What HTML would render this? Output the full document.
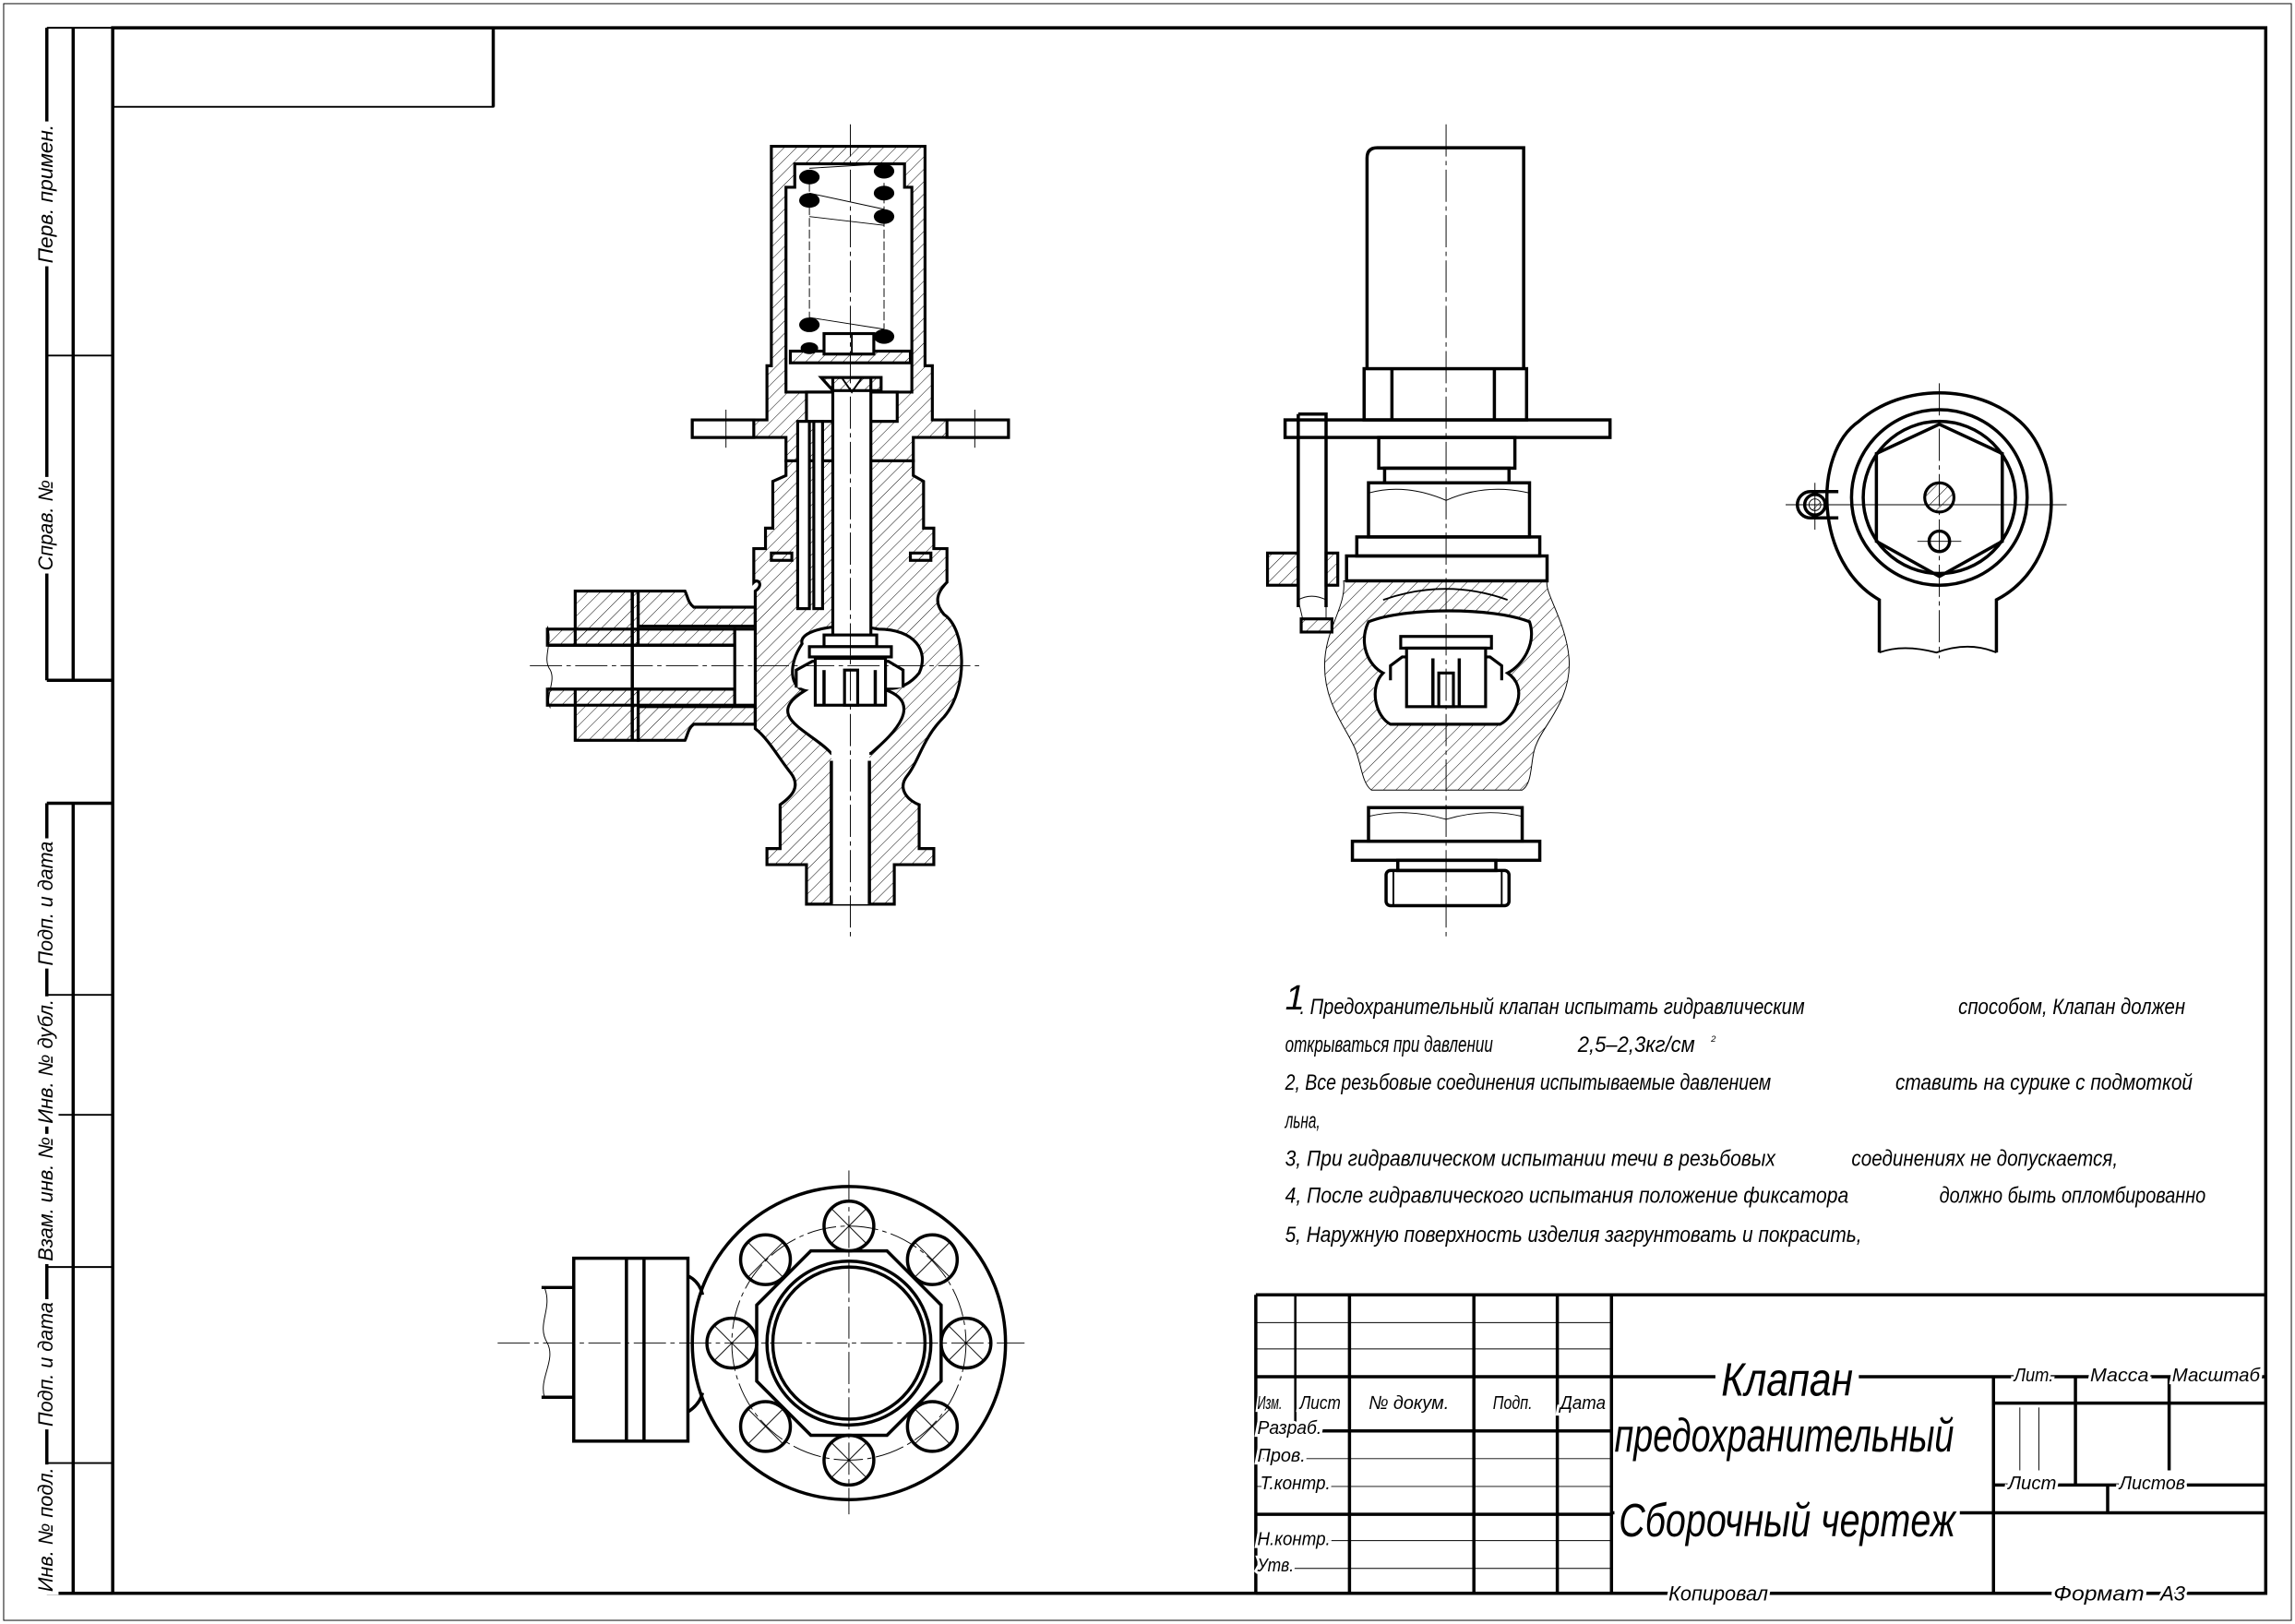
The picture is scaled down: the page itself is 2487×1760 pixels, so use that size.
<!DOCTYPE html>
<html><head><meta charset="utf-8"><style>
html,body{margin:0;padding:0;background:#fff}
svg{display:block}
text{font-family:"Liberation Sans","DejaVu Sans",sans-serif;font-style:italic;fill:#000}
.t{stroke:#000;stroke-width:2.2;fill:none}
.m{stroke:#000;stroke-width:1.2;fill:none}
.n{stroke:#000;stroke-width:0.6;fill:none}
.c{stroke:#000;stroke-width:0.6;fill:none;stroke-dasharray:22 3 3 3}
.h{fill:url(#hat);stroke:#000;stroke-width:2}
.hh{fill:url(#hat);stroke:#000;stroke-width:0.6}
.w{fill:#fff;stroke:#000;stroke-width:2}
.gap{paint-order:stroke;stroke:#fff;stroke-width:4}
.bg{fill:#fff;stroke:none}
</style></head><body>
<svg width="2487" height="1760" viewBox="0 0 1568 1110" preserveAspectRatio="none" xmlns="http://www.w3.org/2000/svg">
<defs>
<pattern id="hat" width="6" height="6" patternUnits="userSpaceOnUse" patternTransform="rotate(45)">
<line x1="0" y1="0" x2="0" y2="6" stroke="#000" stroke-width="0.6"/></pattern>
</defs>
<rect x="0" y="0" width="1568" height="1110" fill="#fff"/>
<!-- frames -->
<rect x="2.5" y="2.5" width="1563" height="1105" class="n" stroke-width="1"/>
<rect x="77" y="19" width="1471" height="1070" class="t"/>
<rect x="77" y="19" width="260" height="54" class="m"/>
<line x1="337" y1="19" x2="337" y2="73" class="t"/>
<!-- left strip -->
<g class="t">
<line x1="50" y1="19" x2="50" y2="465"/><line x1="32" y1="19" x2="32" y2="465"/>
<line x1="50" y1="549" x2="50" y2="1089"/><line x1="32" y1="549" x2="32" y2="1089"/>
<line x1="32" y1="465" x2="77" y2="465"/><line x1="32" y1="549" x2="77" y2="549"/>
<line x1="32" y1="1089" x2="77" y2="1089"/>
</g>
<g class="m">
<line x1="32" y1="243" x2="77" y2="243"/><line x1="32" y1="19" x2="77" y2="19"/>
<line x1="32" y1="680" x2="77" y2="680"/><line x1="32" y1="762" x2="77" y2="762"/>
<line x1="32" y1="866" x2="77" y2="866"/><line x1="32" y1="1000" x2="77" y2="1000"/>
</g>
<g font-size="14">
<g transform="translate(36,180) rotate(-90)"><rect class="bg" x="-2" y="-12" width="99" height="16"/><text textLength="95" lengthAdjust="spacingAndGlyphs">Перв. примен.</text></g>
<g transform="translate(36,390) rotate(-90)"><rect class="bg" x="-2" y="-12" width="66" height="16"/><text textLength="62" lengthAdjust="spacingAndGlyphs">Справ. №</text></g>
<g transform="translate(36,660) rotate(-90)"><rect class="bg" x="-2" y="-12" width="89" height="16"/><text textLength="85" lengthAdjust="spacingAndGlyphs">Подп. и дата</text></g>
<g transform="translate(36,768) rotate(-90)"><rect class="bg" x="-2" y="-12" width="89" height="16"/><text textLength="85" lengthAdjust="spacingAndGlyphs">Инв. № дубл.</text></g>
<g transform="translate(36,862) rotate(-90)"><rect class="bg" x="-2" y="-12" width="89" height="16"/><text textLength="85" lengthAdjust="spacingAndGlyphs">Взам. инв. №</text></g>
<g transform="translate(36,975) rotate(-90)"><rect class="bg" x="-2" y="-12" width="89" height="16"/><text textLength="85" lengthAdjust="spacingAndGlyphs">Подп. и дата</text></g>
<g transform="translate(36,1088) rotate(-90)"><rect class="bg" x="-2" y="-12" width="89" height="16"/><text textLength="85" lengthAdjust="spacingAndGlyphs">Инв. № подл.</text></g>
</g>

<!-- ===== main section view ===== -->
<g>
<path class="h" fill-rule="evenodd" d="M527,100 H632 V250 H637 V287 H689 V299 H624 V315 H537 V299 H473 V287 H524 V250 H527 Z M543,112 H618 V128 H623 V268 H537 V128 H543 Z"/>
<rect x="473" y="287" width="42" height="12" class="w"/><rect x="647" y="287" width="42" height="12" class="w"/>
<line x1="496" y1="280" x2="496" y2="306" class="n"/><line x1="666" y1="280" x2="666" y2="306" class="n"/>
<path class="h" d="M537,315 H624 V325 L631,329 V361 H638 V375 H647 V398 C640,405 638,412 645,420 C660,430 662,470 645,490 C630,505 628,520 620,530 C612,540 622,548 628,550 V580 H638 V591 H611 V618 H551 V591 H524 V580 H533 V550 C540,545 548,538 540,528 C532,518 525,505 516,498 V404 C522,400 518,395 515,398 V375 H523 V361 H528 V329 L537,325 Z"/>
<path class="w" stroke-width="0.8" d="M548,440 C545,430 575,425 600,430 C625,430 635,445 628,460 C620,470 610,472 600,470 C640,480 600,510 595,515 L568,515 C555,500 520,490 550,472 C540,470 538,455 548,440 Z"/>
<rect x="568" y="500" width="26" height="118" fill="#fff" stroke="none"/>
<line x1="568" y1="520" x2="568" y2="618" class="t"/><line x1="594" y1="520" x2="594" y2="618" class="t"/>
<rect x="551" y="268" width="62" height="20" class="w"/>
<rect x="545" y="288" width="8" height="128" class="w"/>
<rect x="556" y="288" width="6" height="128" class="w" stroke-width="1.5"/>
<rect x="569" y="258" width="26" height="178" class="w"/>
<path class="h" d="M561,258 H602 V267 H569 Z"/>
<rect x="540" y="240" width="82" height="8" class="h"/>
<rect x="563" y="228" width="34" height="14" class="w"/>
<line x1="582" y1="228" x2="582" y2="242" class="m"/>
<path d="M575,258 L582,268 L589,258" class="m"/>
<g fill="#000">
<ellipse cx="553" cy="121" rx="7" ry="5"/><ellipse cx="604" cy="117" rx="7" ry="5"/>
<ellipse cx="553" cy="137" rx="7" ry="5"/><ellipse cx="604" cy="132" rx="7" ry="5"/>
<ellipse cx="604" cy="148" rx="7" ry="5"/>
<ellipse cx="553" cy="222" rx="7" ry="5"/><ellipse cx="553" cy="238" rx="6" ry="4"/>
<ellipse cx="604" cy="230" rx="7" ry="5"/>
</g>
<g class="n"><line x1="553" y1="115" x2="604" y2="112"/><line x1="553" y1="132" x2="604" y2="143"/><line x1="553" y1="148" x2="604" y2="154"/><line x1="553" y1="217" x2="604" y2="225"/>
<line x1="553" y1="125" x2="553" y2="217" stroke-dasharray="6 2"/><line x1="604" y1="125" x2="604" y2="225" stroke-dasharray="6 2"/></g>
<rect x="527" y="378" width="14" height="5" class="h"/><rect x="622" y="378" width="14" height="5" class="h"/>
<rect x="563" y="434" width="36" height="8" class="w"/>
<rect x="553" y="442" width="56" height="7" class="w"/>
<path class="w" d="M544,470 V458 L555,452 H607 L617,458 V470"/>
<rect x="557" y="450" width="48" height="32" class="w"/>
<line x1="563" y1="458" x2="563" y2="482" class="t"/><line x1="598" y1="458" x2="598" y2="482" class="t"/>
<rect x="577" y="458" width="9" height="24" class="w" stroke-width="1.2"/>
<rect x="393" y="404" width="43" height="102" class="h"/>
<path class="h" d="M436,404 H468 C470,408 470,412 474,415 H516 V428 H436 Z"/>
<path class="h" d="M436,506 H468 C470,502 470,498 474,495 H516 V483 H436 Z"/>
<rect x="374" y="430" width="128" height="11" class="h"/>
<rect x="374" y="471" width="128" height="11" class="h"/>
<rect x="374" y="441" width="128" height="30" fill="#fff" stroke="none"/>
<line x1="374" y1="441" x2="502" y2="441" class="t"/><line x1="374" y1="471" x2="502" y2="471" class="t"/>
<rect x="502" y="430" width="14" height="52" class="w"/>
<line x1="432" y1="404" x2="432" y2="506" class="t"/>
<path d="M374,428 C378,440 370,450 376,458 C380,466 372,476 376,484" class="n"/>
<line x1="581" y1="85" x2="581" y2="640" class="c"/>
<line x1="362" y1="455" x2="672" y2="455" class="c"/>
</g>

<!-- ===== elevation view ===== -->
<g>
<path class="t" d="M934,252 V108 Q934,101 941,101 H1041 V252"/>
<rect x="932" y="252" width="111" height="35" class="t"/>
<line x1="951" y1="252" x2="951" y2="287" class="t"/><line x1="1021" y1="252" x2="1021" y2="287" class="t"/>
<rect x="878" y="287" width="222" height="12" class="t" fill="#fff"/>
<rect x="942" y="299" width="93" height="21" class="t"/>
<rect x="946" y="320" width="85" height="10" class="t"/>
<rect x="935" y="330" width="110" height="37" class="t"/>
<path d="M935,337 Q960,330 988,342 Q1015,330 1045,337" class="n"/>
<rect x="927" y="367" width="125" height="13" class="t"/>
<rect x="920" y="380" width="137" height="17" class="t"/>
<rect x="866" y="378" width="21" height="22" class="h"/>
<rect x="906" y="378" width="8" height="22" class="h"/>
<path class="t" d="M887,283 H906 V415 M887,283 V415" fill="#fff"/>
<path d="M887,410 Q896,405 906,410 L906,423 M887,410 L890,423" class="n"/>
<rect x="889" y="423" width="21" height="9" class="h"/>
<path class="hh" stroke-width="0.8" d="M918,397 H1057 C1055,405 1070,425 1072,450 C1074,478 1055,495 1050,508 C1045,518 1048,535 1040,540 H937 C930,535 930,520 925,510 C918,495 905,480 905,455 C905,430 920,415 918,397 Z"/>
<path class="w" stroke-width="0.6" d="M935,425 C960,415 1020,415 1045,425 C1050,440 1040,455 1030,460 C1045,470 1035,490 1025,495 H950 C940,490 935,470 945,460 C935,455 928,440 935,425 Z"/>
<path d="M945,410 Q988,395 1030,410" class="m"/>
<rect x="957" y="435" width="62" height="8" class="w"/>
<path class="w" d="M950,465 V455 L958,449 H1018 L1026,455 V465"/>
<rect x="961" y="443" width="54" height="40" class="w"/>
<line x1="979" y1="450" x2="979" y2="483" class="t"/><line x1="997" y1="450" x2="997" y2="483" class="t"/>
<rect x="983" y="460" width="10" height="23" class="w" stroke-width="1.2"/>
<rect x="935" y="552" width="105" height="23" class="t"/>
<path d="M935,558 Q960,552 988,560 Q1015,552 1040,558" class="n"/>
<rect x="924" y="575" width="128" height="13" class="t"/>
<rect x="955" y="588" width="67" height="7" class="t"/>
<rect x="947" y="595" width="84" height="24" rx="3" class="t"/>
<line x1="952" y1="595" x2="952" y2="619" class="m"/><line x1="1026" y1="595" x2="1026" y2="619" class="m"/>
<line x1="988" y1="85" x2="988" y2="640" class="c"/>
</g>

<!-- ===== top view ===== -->
<g>
<path class="t" d="M1284,446 V410 C1240,385 1238,310 1270,288 C1300,262 1350,262 1380,288 C1410,315 1412,385 1364,410 V446"/>
<path class="m" d="M1284,446 Q1300,440 1323,446 Q1345,438 1364,446"/>
<circle cx="1325" cy="340" r="60" class="t"/>
<circle cx="1325" cy="340" r="52" class="t"/>
<polygon points="1325,290 1368,310 1368,370 1325,394 1282,370 1282,310" class="t"/>
<circle cx="1325" cy="340" r="10" class="h"/>
<circle cx="1325" cy="370" r="7" class="t"/>
<path class="t" d="M1256,336 H1237 A9,9 0 0 0 1237,354 H1256"/>
<circle cx="1240" cy="345" r="7" class="t"/>
<circle cx="1240" cy="345" r="4" class="hh"/>
<line x1="1220" y1="345" x2="1412" y2="345" class="n"/>
<line x1="1325" y1="262" x2="1325" y2="450" class="c"/>
<line x1="1240" y1="330" x2="1240" y2="362" class="n"/>
<line x1="1310" y1="370" x2="1340" y2="370" class="n"/>
</g>

<!-- ===== bottom (flange) view ===== -->
<g>
<circle cx="580" cy="918" r="107" class="t"/>
<circle cx="580" cy="918" r="80" class="n" stroke-dasharray="20 3 3 3"/>
<polygon points="554,855 606,855 643,892 643,944 606,981 554,981 517,944 517,892" class="t"/>
<circle cx="580" cy="918" r="56" class="t"/>
<circle cx="580" cy="918" r="52" class="t"/>
<g class="t">
<circle cx="580" cy="838" r="17"/><circle cx="637" cy="861" r="17"/><circle cx="660" cy="918" r="17"/><circle cx="637" cy="975" r="17"/>
<circle cx="580" cy="998" r="17"/><circle cx="523" cy="975" r="17"/><circle cx="500" cy="918" r="17"/><circle cx="523" cy="861" r="17"/>
</g>
<g class="n">
<path d="M568,826 L592,850 M592,826 L568,850"/><path d="M625,849 L649,873 M649,849 L625,873"/>
<path d="M648,906 L672,930 M672,906 L648,930"/><path d="M625,963 L649,987 M649,963 L625,987"/>
<path d="M568,986 L592,1010 M592,986 L568,1010"/><path d="M511,963 L535,987 M535,963 L511,987"/>
<path d="M488,906 L512,930 M512,906 L488,930"/><path d="M511,849 L535,873 M535,849 L511,873"/>
</g>
<rect x="392" y="860" width="78" height="125" class="t" fill="#fff"/>
<line x1="428" y1="860" x2="428" y2="985" class="t"/><line x1="440" y1="860" x2="440" y2="985" class="t"/>
<path class="t" d="M470,872 Q478,876 480,885 M470,965 Q478,960 480,952"/>
<path class="t" d="M370,880 H392 M370,955 H392"/>
<path class="n" d="M372,880 C378,895 366,905 374,918 C380,930 368,942 372,955"/>
<line x1="340" y1="918" x2="700" y2="918" class="c"/>
<line x1="580" y1="800" x2="580" y2="1035" class="c"/>
</g>

<!-- ===== notes ===== -->
<g font-size="15">
<text x="878" y="690" font-size="24">1</text>
<text x="888" y="693" textLength="345" lengthAdjust="spacingAndGlyphs">. Предохранительный клапан испытать гидравлическим</text>
<text x="1338" y="693" textLength="155" lengthAdjust="spacingAndGlyphs">способом, Клапан должен</text>
<text x="878" y="719" textLength="142" lengthAdjust="spacingAndGlyphs">открываться при давлении</text>
<text x="1078" y="719" textLength="80" lengthAdjust="spacingAndGlyphs">2,5–2,3кг/см</text>
<text x="1169" y="712" font-size="6">2</text>
<text x="878" y="745" textLength="332" lengthAdjust="spacingAndGlyphs">2,  Все резьбовые соединения испытываемые давлением</text>
<text x="1295" y="745" textLength="203" lengthAdjust="spacingAndGlyphs">ставить на сурике с подмоткой</text>
<text x="878" y="771" textLength="24" lengthAdjust="spacingAndGlyphs">льна,</text>
<text x="878" y="797" textLength="335" lengthAdjust="spacingAndGlyphs">3,  При гидравлическом испытании течи в резьбовых</text>
<text x="1265" y="797" textLength="182" lengthAdjust="spacingAndGlyphs">соединениях не допускается,</text>
<text x="878" y="822" textLength="385" lengthAdjust="spacingAndGlyphs">4,   После гидравлического испытания положение фиксатора</text>
<text x="1325" y="822" textLength="182" lengthAdjust="spacingAndGlyphs">должно быть опломбированно</text>
<text x="878" y="849" textLength="394" lengthAdjust="spacingAndGlyphs">5,  Наружную поверхность изделия загрунтовать и покрасить,</text>
</g>

<!-- ===== title block ===== -->
<g>
<line x1="858" y1="885" x2="1548" y2="885" class="t"/>
<line x1="858" y1="885" x2="858" y2="1089" class="t"/>
<g class="n" stroke-width="1">
<line x1="858" y1="904" x2="1101" y2="904"/><line x1="858" y1="922" x2="1101" y2="922"/>
<line x1="858" y1="997" x2="1101" y2="997"/><line x1="858" y1="1016" x2="1101" y2="1016"/>
<line x1="858" y1="1053" x2="1101" y2="1053"/><line x1="858" y1="1072" x2="1101" y2="1072"/>
</g>
<g class="t">
<line x1="858" y1="941" x2="1101" y2="941"/><line x1="858" y1="1035" x2="1101" y2="1035"/>
<line x1="885" y1="978" x2="1101" y2="978"/>
<line x1="885" y1="885" x2="885" y2="978" stroke-width="1.6"/>
<line x1="922" y1="885" x2="922" y2="1089"/><line x1="1007" y1="885" x2="1007" y2="1089"/>
<line x1="1064" y1="885" x2="1064" y2="1089"/><line x1="1101" y1="885" x2="1101" y2="1089"/>
<line x1="1101" y1="941" x2="1548" y2="941"/>
<line x1="1362" y1="941" x2="1362" y2="1089"/>
<line x1="1362" y1="959" x2="1548" y2="959"/>
<line x1="1362" y1="1015" x2="1548" y2="1015"/>
<line x1="1101" y1="1034" x2="1548" y2="1034"/>
<line x1="1418" y1="941" x2="1418" y2="1015"/>
<line x1="1482" y1="941" x2="1482" y2="1005"/>
<line x1="1440" y1="1015" x2="1440" y2="1034"/>
</g>
<line x1="1380" y1="962" x2="1380" y2="1005" class="n"/><line x1="1393" y1="962" x2="1393" y2="1005" class="n"/>
<g font-size="13">
<text class="gap" x="859" y="963" textLength="17" lengthAdjust="spacingAndGlyphs">Изм.</text>
<text class="gap" x="888" y="963" textLength="28" lengthAdjust="spacingAndGlyphs">Лист</text>
<rect class="bg" x="933" y="950" width="59" height="16"/>
<text x="935" y="963" textLength="55" lengthAdjust="spacingAndGlyphs">№ докум.</text>
<text class="gap" x="1020" y="963" textLength="27" lengthAdjust="spacingAndGlyphs">Подп.</text>
<text class="gap" x="1066" y="963" textLength="31" lengthAdjust="spacingAndGlyphs">Дата</text>
<text class="gap" x="859" y="980" textLength="44" lengthAdjust="spacingAndGlyphs">Разраб.</text>
<text class="gap" x="859" y="999" textLength="33" lengthAdjust="spacingAndGlyphs">Пров.</text>
<text class="gap" x="861" y="1018" textLength="48" lengthAdjust="spacingAndGlyphs">Т.контр.</text>
<text class="gap" x="859" y="1056" textLength="50" lengthAdjust="spacingAndGlyphs">Н.контр.</text>
<text class="gap" x="859" y="1074" textLength="25" lengthAdjust="spacingAndGlyphs">Утв.</text>
<text class="gap" x="1376" y="944" textLength="27" lengthAdjust="spacingAndGlyphs">Лит.</text>
<text class="gap" x="1428" y="944" textLength="40" lengthAdjust="spacingAndGlyphs">Масса</text>
<text class="gap" x="1484" y="944" textLength="60" lengthAdjust="spacingAndGlyphs">Масштаб</text>
<text class="gap" x="1372" y="1018" textLength="33" lengthAdjust="spacingAndGlyphs">Лист</text>
<text class="gap" x="1448" y="1018" textLength="45" lengthAdjust="spacingAndGlyphs">Листов</text>
</g>
<line x1="1101" y1="1089" x2="1548" y2="1089" class="t"/>
<line x1="858" y1="1089" x2="1101" y2="1089" class="t"/>
<g font-size="14">
<text class="gap" x="1140" y="1094" textLength="68" lengthAdjust="spacingAndGlyphs">Копировал</text>
<text class="gap" x="1403" y="1094" textLength="62" lengthAdjust="spacingAndGlyphs">Формат</text>
<text class="gap" x="1476" y="1094" textLength="17" lengthAdjust="spacingAndGlyphs">А3</text>
</g>
<g font-size="32">
<rect class="bg" x="1172" y="928" width="98" height="30"/>
<text x="1176" y="954" textLength="90" lengthAdjust="spacingAndGlyphs">Клапан</text>
<text x="1103" y="992" textLength="232" lengthAdjust="spacingAndGlyphs">предохранительный</text>
<rect class="bg" x="1103" y="1022" width="236" height="34"/>
<text x="1106" y="1050" textLength="230" lengthAdjust="spacingAndGlyphs">Сборочный чертеж</text>
</g>
</g>
</svg>
</body></html>
